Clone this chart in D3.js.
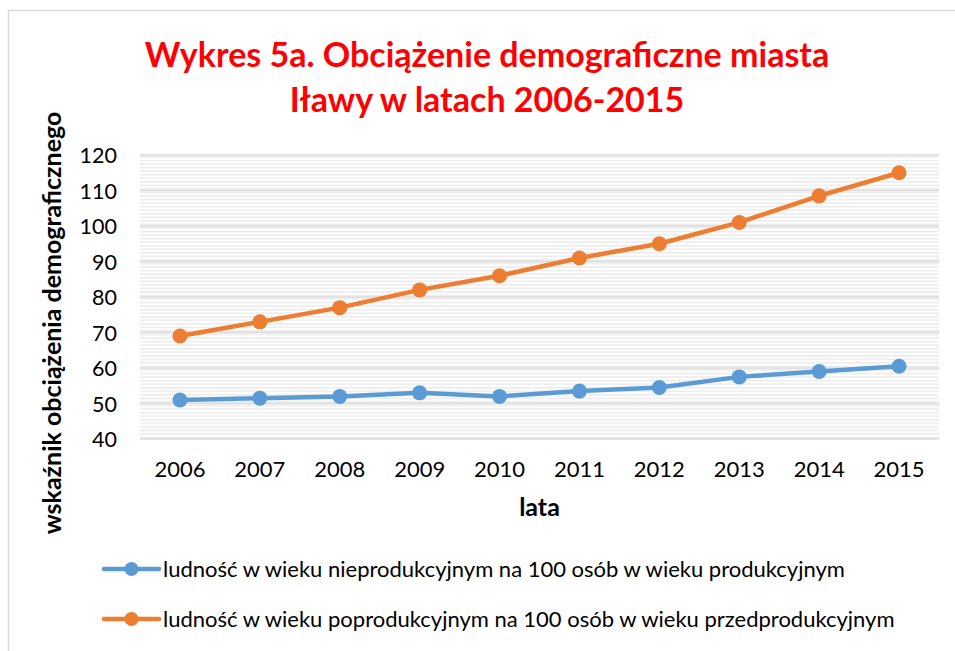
<!DOCTYPE html>
<html lang="pl">
<head>
<meta charset="UTF-8">
<title>Wykres 5a</title>
<style>
  body { margin: 0; background: #fff; }
  text { font-family: Lato, "Open Sans", sans-serif; }
</style>
</head>
<body>
<script src="https://d3js.org/d3.v7.min.js"></script>
<script>
// data
var years = ["2006", "2007", "2008", "2009", "2010", "2011", "2012", "2013", "2014", "2015"];
var nieprodukcyjny = [51, 51.5, 52, 53, 52, 53.5, 54.5, 57.5, 59, 60.5];
var poprodukcyjny = [69, 73, 77, 82, 86, 91, 95, 101, 108.5, 115];
var yTicks = [40, 50, 60, 70, 80, 90, 100, 110, 120];
var seriesNames = [
    "ludność w wieku nieprodukcyjnym na 100 osób w wieku produkcyjnym",
    "ludność w wieku poprodukcyjnym na 100 osób w wieku przedprodukcyjnym"
];
var colors = ["#5B9BD5", "#ED7D31"];

const width = 955;
const height = 651;
const plot = {left: 140, right: 939, top: 155, bottom: 439};

const svg = d3.select("body")
    .append("svg")
    .attr("width", width)
    .attr("height", height);

// outer chart border (runs off the right and bottom of the picture)
svg.append("rect")
    .attr("x", 8.5).attr("y", 10.5)
    .attr("width", 1000).attr("height", 1000)
    .attr("fill", "#fff")
    .attr("stroke", "#d9d9d9")
    .attr("stroke-width", 1.5);

// light horizontal hatch in the plot area
var defs = svg.append("defs");
var pat = defs.append("pattern")
    .attr("id", "hatch")
    .attr("patternUnits", "userSpaceOnUse")
    .attr("width", 8).attr("height", 3.55);
pat.append("rect").attr("width", 8).attr("height", 3.55).attr("fill", "#fff");
pat.append("rect").attr("y", 0).attr("width", 8).attr("height", 1.5).attr("fill", "#ebebeb");

var x = d3.scaleBand()
    .domain(years)
    .range([plot.left, plot.right]);

var y = d3.scaleLinear()
    .domain([40, 120])
    .range([plot.bottom, plot.top]);

svg.append("rect")
    .attr("x", plot.left).attr("y", plot.top)
    .attr("width", plot.right - plot.left)
    .attr("height", plot.bottom - plot.top)
    .attr("fill", "url(#hatch)");

// gridlines
svg.append("g")
    .selectAll("line")
    .data(yTicks)
    .enter()
    .append("line")
    .attr("x1", plot.left).attr("x2", plot.right)
    .attr("y1", function(d) { return y(d); })
    .attr("y2", function(d) { return y(d); })
    .attr("stroke", "#d9d9d9")
    .attr("stroke-width", 1.5);

// y axis labels
var yAxis = svg.append("g")
    .attr("transform", "translate(" + (plot.left - 23) + ",0)")
    .call(d3.axisLeft(y).tickValues(yTicks).tickSize(0).tickPadding(0));
yAxis.select(".domain").remove();
yAxis.selectAll("text")
    .attr("font-family", "Lato, sans-serif")
    .attr("font-size", 21.5)
    .attr("fill", "#000")
    .attr("dy", "0.36em");

// x axis labels
var xAxis = svg.append("g")
    .attr("transform", "translate(0," + plot.bottom + ")")
    .call(d3.axisBottom(x).tickSize(0).tickPadding(0));
xAxis.select(".domain").remove();
xAxis.selectAll("text")
    .attr("font-family", "Lato, sans-serif")
    .attr("font-size", 22)
    .attr("fill", "#000")
    .attr("dy", null)
    .attr("y", 38);

// axis titles
svg.append("text")
    .attr("x", (plot.left + plot.right) / 2)
    .attr("y", 516)
    .attr("text-anchor", "middle")
    .attr("font-size", 25)
    .attr("font-weight", "bold")
    .text("lata");

svg.append("text")
    .attr("transform", "translate(61,323) rotate(-90)")
    .attr("text-anchor", "middle")
    .attr("font-size", 25)
    .attr("font-weight", "bold")
    .text("wskaźnik obciążenia demograficznego");

// title
var title = svg.append("text")
    .attr("text-anchor", "middle")
    .attr("fill", "#FF0000")
    .attr("font-size", 34)
    .attr("font-weight", "bold");
title.append("tspan").attr("x", 487).attr("y", 67).text("Wykres 5a. Obciążenie demograficzne miasta");
title.append("tspan").attr("x", 487).attr("y", 112).text("Iławy w latach 2006-2015");

// series
var series = [nieprodukcyjny, poprodukcyjny];
var line = d3.line()
    .x(function(d, i) { return x(years[i]) + x.bandwidth() / 2; })
    .y(function(d) { return y(d); });

series.forEach(function(values, s) {
    svg.append("path")
        .datum(values)
        .attr("fill", "none")
        .attr("stroke", colors[s])
        .attr("stroke-width", 4.5)
        .attr("stroke-linejoin", "round")
        .attr("d", line);
    svg.append("g")
        .selectAll("circle")
        .data(values)
        .enter()
        .append("circle")
        .attr("cx", function(d, i) { return x(years[i]) + x.bandwidth() / 2; })
        .attr("cy", function(d) { return y(d); })
        .attr("r", 7.5)
        .attr("fill", colors[s]);
});

// legend
var legend = svg.append("g")
    .selectAll("g")
    .data(seriesNames)
    .enter()
    .append("g")
    .attr("transform", function(d, i) { return "translate(0," + (569 + i * 50) + ")"; });
legend.append("line")
    .attr("x1", 104).attr("x2", 159)
    .attr("stroke", function(d, i) { return colors[i]; })
    .attr("stroke-width", 4.5)
    .attr("stroke-linecap", "round");
legend.append("circle")
    .attr("cx", 131.5)
    .attr("r", 7)
    .attr("fill", function(d, i) { return colors[i]; });
legend.append("text")
    .attr("x", 163)
    .attr("dy", "0.36em")
    .attr("font-size", 22)
    .text(function(d) { return d; });
</script>
</body>
</html>
